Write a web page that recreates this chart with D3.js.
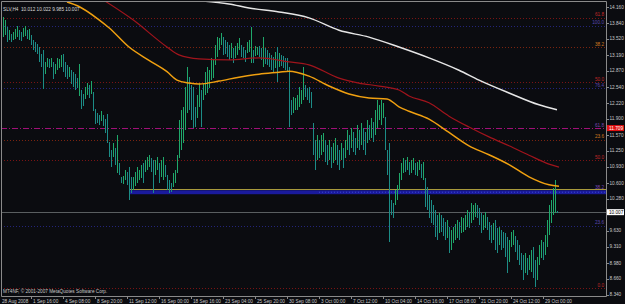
<!DOCTYPE html>
<html>
<head>
<meta charset="utf-8">
<script src="https://cdn.jsdelivr.net/npm/d3@7"></script>
<style>
html, body { margin: 0; padding: 0; background: #0b0c10; }
svg { display: block; }
text { font-family: "Liberation Sans", Arial, sans-serif; }
</style>
</head>
<body>
<div id="chart"></div>
<script>
//SLV H4 bars, 28 Aug - 29 Oct 2008
let barHigh = [
	13.95,13.90,13.75,13.70,13.62,13.65,13.72,13.78,13.70,13.66,13.74,13.78,13.70,13.72,13.60,13.50,13.45,13.42,13.35,13.20,
	13.30,13.05,13.13,13.10,13.12,13.05,13.00,13.12,13.10,13.18,13.20,13.05,12.98,12.95,12.88,12.85,12.80,12.72,13.00,12.48,
	12.40,12.55,12.62,12.58,12.66,12.45,12.10,12.02,11.98,12.05,11.98,11.90,12.00,11.42,11.27,11.41,11.30,11.57,11.00,10.72,
	10.74,10.86,10.82,10.92,10.72,10.72,10.82,10.92,10.86,10.96,11.00,11.06,11.12,11.16,11.10,11.06,11.06,11.12,11.00,11.06,
	11.12,10.96,10.76,10.66,10.60,10.80,10.86,11.16,11.87,12.07,12.14,12.54,12.95,12.74,12.58,12.54,12.14,12.38,12.62,12.48,
	12.62,12.84,12.95,12.88,13.13,13.09,13.39,13.55,13.53,13.63,13.55,13.49,13.45,13.39,13.43,13.33,13.37,13.43,13.53,13.39,
	13.35,13.29,13.45,13.49,13.75,13.29,13.37,13.35,13.37,13.33,13.55,13.33,13.29,13.23,13.19,13.15,13.25,13.35,13.23,13.19,
	13.17,13.13,13.13,12.95,12.28,12.34,12.32,12.38,12.54,12.48,12.95,12.58,12.52,12.54,12.44,11.81,11.47,11.57,11.47,11.57,
	11.61,11.47,11.37,11.47,11.33,11.41,11.51,11.37,11.27,11.41,11.31,11.47,11.67,11.57,11.71,11.63,11.51,11.77,11.67,11.81,
	11.71,11.63,11.87,11.77,11.91,11.83,12.07,12.28,12.18,12.28,12.22,11.93,11.27,11.41,10.25,10.19,10.46,10.56,10.80,11.00,
	11.10,11.06,11.12,11.02,11.06,11.10,11.00,11.02,11.06,10.98,11.02,10.70,10.52,10.35,10.25,10.15,10.05,9.95,9.99,9.95,
	9.89,9.81,9.85,9.71,9.65,9.71,9.77,9.85,9.81,9.91,9.89,9.95,10.05,10.01,10.19,10.15,10.19,10.15,10.09,9.99,
	9.95,10.01,9.91,9.81,9.75,9.79,9.85,9.69,9.71,9.65,9.60,9.58,9.50,9.44,9.60,9.65,9.52,9.44,9.34,9.18,
	9.14,9.18,9.08,9.14,9.24,9.30,9.04,9.10,9.34,9.44,9.40,9.54,9.85,10.15,10.25,10.50,10.65,10.022
];
let barLow = [
	13.55,13.60,13.45,13.50,13.45,13.50,13.52,13.55,13.50,13.48,13.55,13.58,13.52,13.50,13.40,13.30,13.25,13.20,13.05,12.95,
	12.50,12.80,12.95,12.92,12.95,12.70,12.80,12.88,12.92,12.95,12.85,12.75,12.70,12.75,12.60,12.55,12.48,12.52,12.35,12.10,
	12.15,12.30,12.38,12.32,12.40,12.05,11.80,11.82,11.78,11.85,11.75,11.62,11.40,11.12,10.92,11.12,10.96,10.80,10.76,10.60,
	10.58,10.66,10.56,10.25,10.39,10.46,10.54,10.60,10.66,10.70,10.60,10.82,10.86,10.92,10.82,10.39,10.76,10.86,10.60,10.72,
	10.66,10.72,10.46,10.39,10.41,10.52,10.60,10.80,11.10,11.27,11.41,11.67,12.01,12.07,11.87,11.71,11.73,11.91,12.14,11.73,
	12.28,12.38,12.42,12.52,12.68,12.72,12.99,13.15,13.29,13.39,13.19,13.21,13.15,13.09,13.13,13.03,13.13,13.19,13.29,13.15,
	13.13,13.05,13.23,13.25,13.03,13.03,13.17,13.19,13.15,13.09,12.95,13.01,12.99,12.95,12.88,12.84,12.92,12.64,12.95,12.97,
	12.92,12.88,12.84,11.73,11.97,12.01,12.07,12.07,12.14,12.20,12.28,12.34,12.28,12.22,12.11,11.16,10.86,11.06,11.10,11.16,
	11.22,11.02,10.96,11.06,10.90,11.00,11.06,10.96,10.86,11.06,10.90,11.10,11.27,11.16,11.31,11.22,11.16,11.31,11.27,11.37,
	11.27,11.16,11.41,11.47,11.51,11.43,11.57,11.71,11.87,11.77,11.91,11.27,10.76,9.40,9.95,9.89,10.15,10.25,10.46,10.66,
	10.80,10.82,10.86,10.76,10.80,10.86,10.76,10.74,10.86,10.70,10.66,10.11,10.05,9.89,9.79,9.75,9.50,9.44,9.58,9.60,
	9.52,9.44,9.48,9.18,9.24,9.38,9.44,9.48,9.44,9.58,9.60,9.65,9.71,9.69,9.79,9.85,9.91,9.89,9.75,9.58,
	9.65,9.69,9.65,9.44,9.38,9.44,9.24,9.18,9.34,9.24,9.28,9.10,8.78,9.00,9.30,9.34,9.20,9.04,8.94,8.84,
	8.63,8.78,8.74,8.84,8.80,8.67,8.49,8.63,8.94,9.08,9.04,9.14,9.30,9.54,9.79,9.95,10.00,9.985
];

//moving averages, sampled at bar indexes
let orangeIdx = [32, 38, 48, 53, 63, 73, 82, 87, 93, 98, 108, 118, 128, 138, 143, 153, 163, 173, 183, 192, 198, 203, 213, 223, 233, 243, 253, 263, 273, 278];
let orangeVal = [14.26, 14.17, 13.90, 13.74, 13.35, 13.08, 12.85, 12.68, 12.62, 12.60, 12.66, 12.74, 12.80, 12.84, 12.86, 12.76, 12.56, 12.40, 12.32, 12.30, 12.14, 12.05, 11.89, 11.62, 11.35, 11.17, 10.97, 10.72, 10.56, 10.53];
let redIdx = [51, 65, 82, 88, 98, 113, 128, 143, 153, 168, 178, 188, 198, 203, 213, 223, 233, 243, 253, 263, 273, 278];
let redVal = [14.28, 13.90, 13.35, 13.19, 13.11, 13.09, 13.13, 13.05, 12.99, 12.72, 12.62, 12.56, 12.48, 12.36, 12.22, 11.95, 11.73, 11.53, 11.35, 11.16, 10.98, 10.92];
let whiteIdx = [100, 113, 123, 138, 153, 168, 183, 198, 213, 228, 238, 253, 268, 277];
let whiteVal = [14.28, 14.22, 14.14, 14.06, 13.94, 13.69, 13.55, 13.35, 13.13, 12.88, 12.68, 12.42, 12.18, 12.08];

//horizontal levels with their fibo captions
let levelPrice = [13.94, 13.78, 13.35, 12.64, 12.52, 11.709, 11.47, 11.06, 10.45, 9.73, 8.47];
let levelText = ["61.8", "100.0", "38.2", "50.0", "76.4", "61.8", "23.6", "50.0", "38.2", "23.6", "0.0"];
let levelKind = ["red", "blue", "orange", "red", "blue", "magenta", "orange", "red", "band", "blue", "red"];

let bandTop = 10.45;
let bandBottom = 10.37;
let yellowLevel = 10.466;
let bandStart = 63;
let bidPrice = 10.007;
let markedPrice = 11.709;

//axis labels (9.950 sits under the bid box)
let priceTicks = [14.160, 13.840, 13.520, 13.190, 12.870, 12.540, 12.220, 11.900, 11.570, 11.250, 10.930, 10.600, 10.280, 9.630, 9.310, 8.980, 8.660, 8.340];
let timeIdx = [0, 14, 30, 46, 62, 78, 94, 110, 126, 142, 158, 174, 190, 206, 222, 238, 254, 270];
let timeLabels = ["28 Aug 2008", "1 Sep 16:00", "4 Sep 08:00", "8 Sep 20:00", "11 Sep 12:00", "16 Sep 00:00", "18 Sep 16:00", "23 Sep 04:00", "25 Sep 20:00", "30 Sep 08:00", "3 Oct 00:00", "7 Oct 12:00", "10 Oct 04:00", "14 Oct 16:00", "17 Oct 08:00", "21 Oct 20:00", "24 Oct 12:00", "29 Oct 00:00"];

let title = "SLV,H4  10.012 10.022 9.985 10.007";
let copyright = "MT4NF, \u00a9 2001-2007 MetaQuotes Software Corp.";

let drawChart = function(parent) {
	let width = 625, height = 304;
	let frame = { left: 1, top: 1, right: 606, bottom: 296 };
	let fontSize = 4.7;

	let svg = d3.select(parent).append("svg")
		.attr("width", width)
		.attr("height", height);

	svg.append("rect")
		.attr("width", width)
		.attr("height", height)
		.attr("fill", "#0b0c10");

	let x = d3.scaleLinear().domain([0, 277]).range([3, 557]);
	let y = d3.scaleLinear().domain([8.34, 14.16]).range([294.5, 7]);

	svg.append("clipPath").attr("id", "plot-clip")
		.append("rect")
		.attr("x", frame.left)
		.attr("y", frame.top)
		.attr("width", frame.right - frame.left)
		.attr("height", frame.bottom - frame.top);

	let g = svg.append("g").attr("clip-path", "url(#plot-clip)");

	//level lines
	let lineColor = { red: "#7a1414", orange: "#7a2410", blue: "#24247a", magenta: "#a01078" };
	let labelColor = { red: "#c02828", orange: "#d07a20", blue: "#5a48b0", magenta: "#7a48b0", band: "#7a48b0" };
	let lineDash = { red: "1,2", orange: "1,2", blue: "1,2", magenta: "6,2,1,2" };
	let levels = levelPrice.map((p, i) => ({ p: p, text: levelText[i], kind: levelKind[i] }));

	g.selectAll("line.level")
		.data(levels.filter(d => d.kind != "band"))
		.enter()
		.append("line")
		.attr("class", "level")
		.attr("x1", frame.left)
		.attr("x2", frame.right)
		.attr("y1", d => Math.round(y(d.p)) + 0.5)
		.attr("y2", d => Math.round(y(d.p)) + 0.5)
		.attr("stroke", d => lineColor[d.kind])
		.attr("stroke-dasharray", d => lineDash[d.kind])
		.attr("stroke-width", d => d.kind == "magenta" ? 1.2 : 1);

	g.selectAll("text.level")
		.data(levels)
		.enter()
		.append("text")
		.attr("class", "level")
		.attr("x", frame.right - 2)
		.attr("y", d => y(d.p) - 1.5)
		.attr("text-anchor", "end")
		.attr("font-size", fontSize)
		.attr("fill", d => labelColor[d.kind])
		.text(d => d.text);

	//blue band with yellow line on top
	g.append("rect")
		.attr("x", x(bandStart))
		.attr("y", y(bandTop))
		.attr("width", frame.right - x(bandStart))
		.attr("height", y(bandBottom) - y(bandTop))
		.attr("fill", "#1a1a9c");
	g.append("line")
		.attr("x1", x(bandStart + 95))
		.attr("x2", frame.right)
		.attr("y1", y((bandTop + bandBottom) / 2))
		.attr("y2", y((bandTop + bandBottom) / 2))
		.attr("stroke", "#3a48c8")
		.attr("stroke-dasharray", "1,2");
	g.append("line")
		.attr("x1", x(bandStart))
		.attr("x2", frame.right)
		.attr("y1", Math.round(y(yellowLevel)) + 0.5)
		.attr("y2", Math.round(y(yellowLevel)) + 0.5)
		.attr("stroke", "#a89a3c");

	//bid line
	g.append("line")
		.attr("x1", frame.left)
		.attr("x2", frame.right)
		.attr("y1", Math.round(y(bidPrice)) + 0.5)
		.attr("y2", Math.round(y(bidPrice)) + 0.5)
		.attr("stroke", "#5a5e60");

	//bars: one path per colour, each bar a vertical segment from high to low
	let bars = barHigh.map((h, i) => ({ i: i, h: h, l: barLow[i] }));
	let isUp = function(d) {
		if (d.i == 0) return true;
		let mid = (d.h + d.l) / 2;
		let prev = (barHigh[d.i - 1] + barLow[d.i - 1]) / 2;
		return mid >= prev;
	};
	let barPath = list => list
		.map(d => `M${Math.round(x(d.i)) + 0.5},${y(d.h).toFixed(1)}V${Math.max(y(d.l), y(d.h) + 1).toFixed(1)}`)
		.join("");
	let barGroups = [
		{ color: "#1fa86a", list: bars.filter(isUp) },
		{ color: "#1c8c86", list: bars.filter(d => !isUp(d)) }
	];
	g.selectAll("path.bar")
		.data(barGroups)
		.enter()
		.append("path")
		.attr("class", "bar")
		.attr("d", d => barPath(d.list))
		.attr("fill", "none")
		.attr("stroke", d => d.color)
		.attr("stroke-width", 1)
		.attr("shape-rendering", "crispEdges");

	//moving averages
	let maLine = d3.line()
		.x(d => x(d[0]))
		.y(d => y(d[1]))
		.curve(d3.curveMonotoneX);
	g.append("path")
		.attr("d", maLine(whiteIdx.map((v, i) => [v, whiteVal[i]])))
		.attr("fill", "none")
		.attr("stroke", "#e6e6e6")
		.attr("stroke-width", 1.5);
	g.append("path")
		.attr("d", maLine(redIdx.map((v, i) => [v, redVal[i]])))
		.attr("fill", "none")
		.attr("stroke", "#a0141c")
		.attr("stroke-width", 1.2);
	g.append("path")
		.attr("d", maLine(orangeIdx.map((v, i) => [v, orangeVal[i]])))
		.attr("fill", "none")
		.attr("stroke", "#f0a010")
		.attr("stroke-width", 1.5);

	//frame
	svg.append("path")
		.attr("d", `M${frame.left + 0.5},${frame.bottom + 0.5}V${frame.top + 0.5}H${frame.right + 0.5}V${frame.bottom + 0.5}H${frame.left + 0.5}`)
		.attr("fill", "none")
		.attr("stroke", "#8a8a8a");

	//price axis
	svg.selectAll("line.ptick")
		.data(priceTicks)
		.enter()
		.append("line")
		.attr("class", "ptick")
		.attr("x1", frame.right)
		.attr("x2", frame.right + 3)
		.attr("y1", d => Math.round(y(d)) + 0.5)
		.attr("y2", d => Math.round(y(d)) + 0.5)
		.attr("stroke", "#8a8a8a");
	svg.selectAll("text.ptick")
		.data(priceTicks)
		.enter()
		.append("text")
		.attr("class", "ptick")
		.attr("x", frame.right + 3.5)
		.attr("y", d => y(d) + 1.7)
		.attr("font-size", fontSize)
		.attr("fill", "#c8c8c8")
		.text(d => d.toFixed(3));

	//price boxes on the axis
	let boxes = [
		{ p: markedPrice, bg: "#e01010", fg: "#ffffff" },
		{ p: bidPrice, bg: "#ffffff", fg: "#000000" }
	];
	svg.selectAll("rect.pbox")
		.data(boxes)
		.enter()
		.append("rect")
		.attr("class", "pbox")
		.attr("x", frame.right + 1)
		.attr("y", d => y(d.p) - 3)
		.attr("width", 17)
		.attr("height", 6)
		.attr("fill", d => d.bg);
	svg.selectAll("text.pbox")
		.data(boxes)
		.enter()
		.append("text")
		.attr("class", "pbox")
		.attr("x", frame.right + 3)
		.attr("y", d => y(d.p) + 1.7)
		.attr("font-size", fontSize)
		.attr("fill", d => d.fg)
		.text(d => d.p.toFixed(3));

	//time axis
	svg.selectAll("line.ttick")
		.data(timeIdx.slice(1))
		.enter()
		.append("line")
		.attr("class", "ttick")
		.attr("x1", d => Math.round(x(d)) + 0.5)
		.attr("x2", d => Math.round(x(d)) + 0.5)
		.attr("y1", frame.bottom)
		.attr("y2", frame.bottom + 3)
		.attr("stroke", "#8a8a8a");
	svg.selectAll("text.ttick")
		.data(timeLabels)
		.enter()
		.append("text")
		.attr("class", "ttick")
		.attr("x", (d, i) => i == 0 ? 2 : x(timeIdx[i]) + 2)
		.attr("y", frame.bottom + 6.5)
		.attr("font-size", fontSize)
		.attr("fill", "#c8c8c8")
		.text(d => d);

	//title and copyright
	svg.append("text")
		.attr("x", 3)
		.attr("y", 11)
		.attr("font-size", fontSize)
		.attr("fill", "#d8d8d8")
		.attr("xml:space", "preserve")
		.style("white-space", "pre")
		.text(title);
	svg.append("text")
		.attr("x", 3)
		.attr("y", 292.5)
		.attr("font-size", fontSize)
		.attr("fill", "#c8c8c8")
		.text(copyright);

	return svg.node();
};

drawChart(d3.select("#chart").node());
</script>
</body>
</html>
